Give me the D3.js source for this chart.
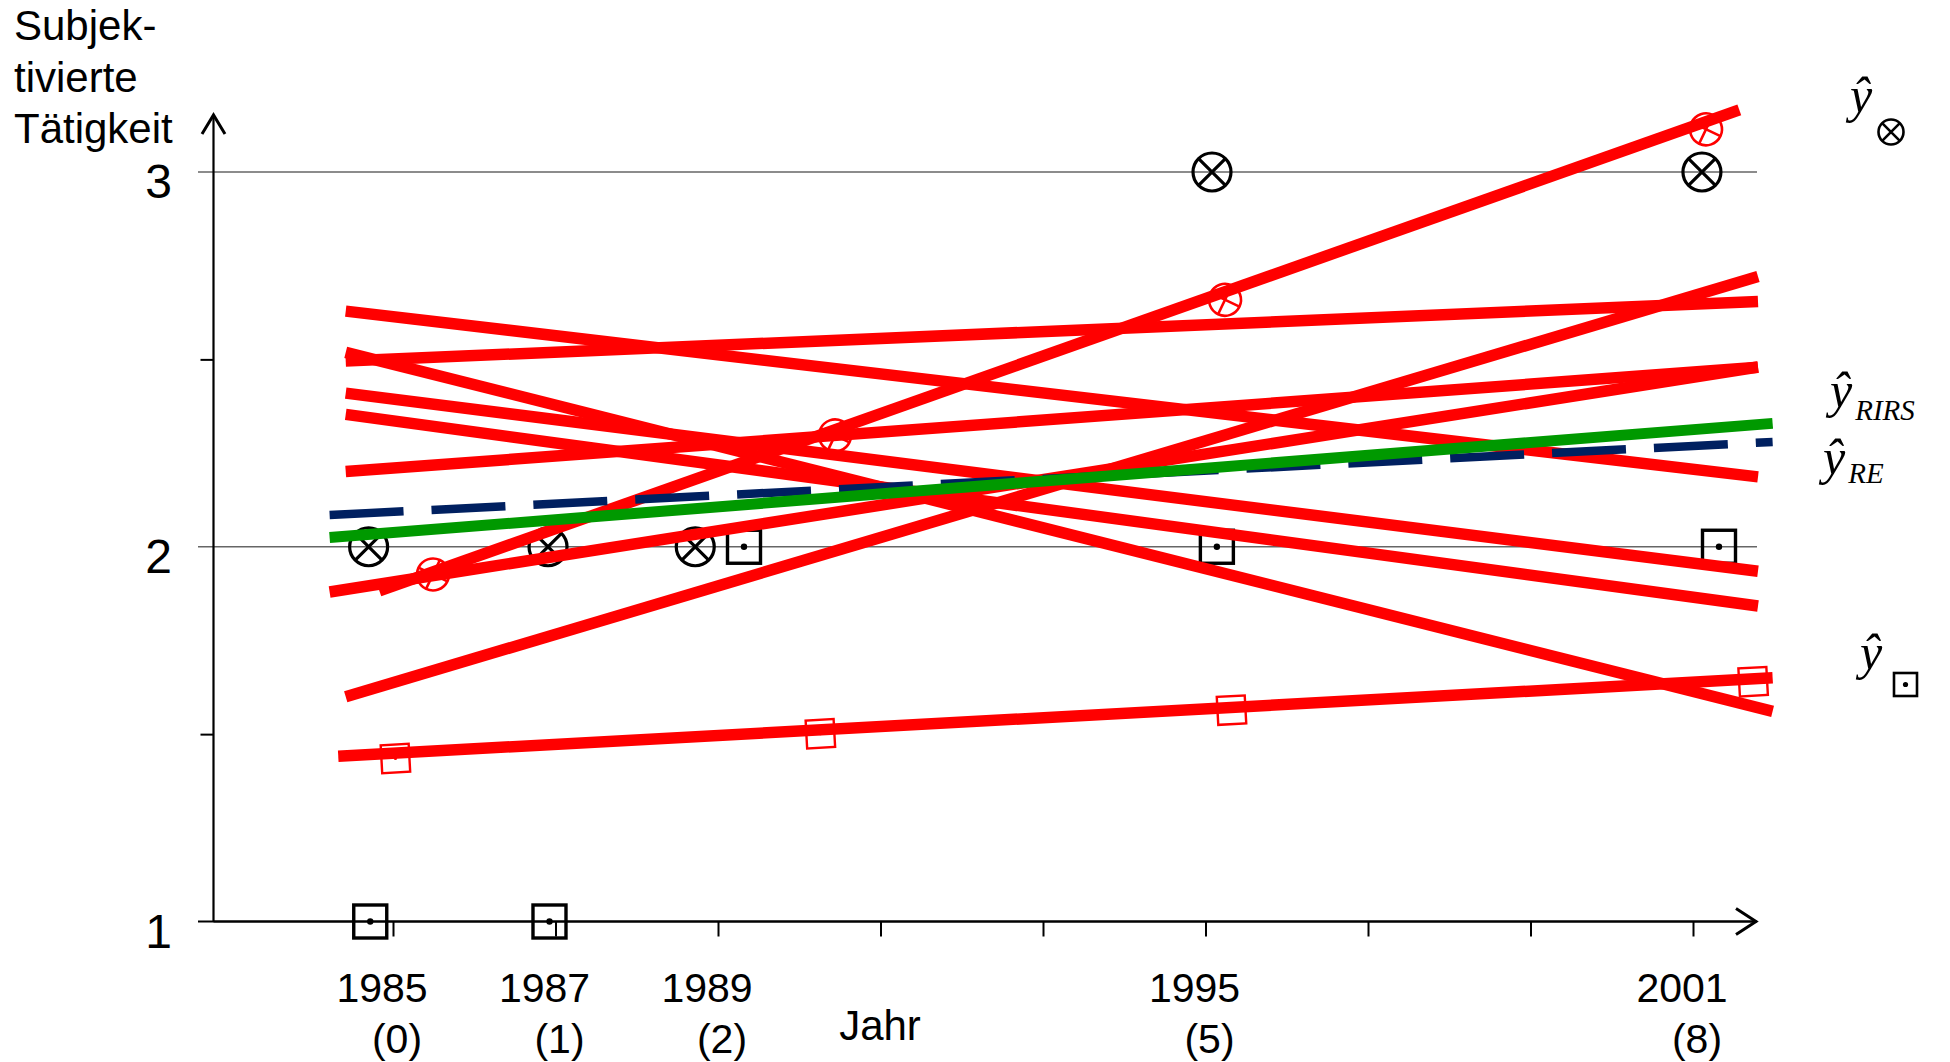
<!DOCTYPE html>
<html>
<head>
<meta charset="utf-8">
<script src="https://cdn.jsdelivr.net/npm/d3@7"></script>
<style>
  body { margin: 0; background: #fff; }
  svg { display: block; }
</style>
</head>
<body>
<svg id="chart" width="1950" height="1062"></svg>
<script>
// Survey waves with their years
const labelWaves = [0, 1, 2, 5, 8];
const waveYears = ["1985", "1987", "1989", "1995", "2001"];
const tickWaves = [0, 1, 2, 3, 4, 5, 6, 7, 8];
const yTicks = [1, 2, 3];
const yTickLabels = ["1", "2", "3"];
const yMinorTicks = [1.5, 2.5];

// Observed values of the two example persons (time in waves)
const obsCrossT = [-0.15, 0.954, 1.86, 5.04, 8.055];
const obsCrossV = [2, 2, 2, 3, 3];
const obsSquareT = [-0.14, 0.963, 2.16, 5.07, 8.16];
const obsSquareV = [1, 1, 2, 2, 2];

// Predicted values of the two example persons
const predCrossT = [0.246, 2.72, 5.12, 8.08];
const predCrossV = [1.926, 2.297, 2.659, 3.114];
const predSquareT = [0.015, 2.63, 5.16, 8.37];
const predSquareV = [1.435, 1.501, 1.564, 1.640];

// Individual regression lines: intercept at wave 0, slope per wave, drawn range
const indIntercept = [1.895, 1.6375, 2.614, 2.487, 2.501, 2.394, 2.336, 2.210, 1.906, 1.449];
const indSlope     = [0.1534, 0.129, -0.0509, -0.1091, 0.0183, -0.0547, -0.0588, 0.032, 0.0683, 0.0237];
const indFrom      = [-0.084, -0.291, -0.291, -0.291, -0.291, -0.291, -0.291, -0.291, -0.39, -0.337];
const indTo        = [8.285, 8.40, 8.40, 8.49, 8.40, 8.40, 8.40, 8.40, 8.40, 8.49];

// Population lines: random intercept/random slope model and random effects model
const rirsLine = { intercept: 2.038, slope: 0.0343, from: -0.39, to: 8.49 };
const reLine   = { intercept: 2.093, slope: 0.022,  from: -0.39, to: 8.49 };

const svg = d3.select("#chart");
const x = d3.scaleLinear().domain([0, 8]).range([393, 1693]);
const y = d3.scaleLinear().domain([1, 3]).range([921.5, 172]);

const sans = "'Liberation Sans', Arial, sans-serif";
const serif = "'Liberation Serif', 'Times New Roman', serif";

// Horizontal grid lines at the integer values
svg.append("g").selectAll("line").data(yTicks).join("line")
  .attr("x1", 198).attr("x2", 1757)
  .attr("y1", d => y(d)).attr("y2", d => y(d))
  .attr("stroke", d => d === 1 ? "#000" : "#666")
  .attr("stroke-width", d => d === 1 ? 2.2 : 1.6);

// Axes
const xAxisG = svg.append("g").attr("transform", `translate(0,${y(1)})`)
  .call(d3.axisBottom(x).tickValues(tickWaves).tickSize(15).tickFormat(""));
xAxisG.select(".domain").remove();
xAxisG.selectAll(".tick line").attr("stroke", "#000").attr("stroke-width", 2);

const yAxisG = svg.append("g").attr("transform", "translate(213.5,0)")
  .call(d3.axisLeft(y).tickValues(yMinorTicks).tickSize(13).tickFormat(""));
yAxisG.select(".domain").remove();
yAxisG.selectAll(".tick line").attr("stroke", "#000").attr("stroke-width", 2);

svg.append("line").attr("x1", 213.5).attr("x2", 213.5).attr("y1", 116).attr("y2", y(1))
  .attr("stroke", "#000").attr("stroke-width", 2.2);
svg.append("path").attr("d", "M202,134 L213.5,115 L225,134").attr("fill", "none")
  .attr("stroke", "#000").attr("stroke-width", 3);
svg.append("line").attr("x1", 213.5).attr("x2", 1755).attr("y1", y(1)).attr("y2", y(1))
  .attr("stroke", "#000").attr("stroke-width", 2.2);
svg.append("path").attr("d", `M1736,${y(1) - 13} L1756,${y(1)} L1736,${y(1) + 13}`)
  .attr("fill", "none").attr("stroke", "#000").attr("stroke-width", 3);

// Tick labels
svg.append("g").selectAll("text").data(yTicks).join("text")
  .attr("x", 172).attr("y", d => y(d) + 26)
  .attr("text-anchor", "end").attr("font-family", sans).attr("font-size", 48)
  .text((d, i) => yTickLabels[i]);

svg.append("g").selectAll("text").data(labelWaves).join("text")
  .attr("x", d => x(d) - 11).attr("y", 1002)
  .attr("text-anchor", "middle").attr("font-family", sans).attr("font-size", 41)
  .text((d, i) => waveYears[i]);
svg.append("g").selectAll("text").data(labelWaves).join("text")
  .attr("x", d => x(d) + 4).attr("y", 1053)
  .attr("text-anchor", "middle").attr("font-family", sans).attr("font-size", 41)
  .text(d => `(${d})`);

svg.append("text").attr("x", 880).attr("y", 1040).attr("text-anchor", "middle")
  .attr("font-family", sans).attr("font-size", 42).text("Jahr");

const yTitle = ["Subjek-", "tivierte", "Tätigkeit"];
svg.append("g").selectAll("text").data(yTitle).join("text")
  .attr("x", 14).attr("y", (d, i) => 40 + i * 51.5)
  .attr("font-family", sans).attr("font-size", 42).text(d => d);

// Marker shapes
function crossMark(g, cx, cy, r, color, sw, rot) {
  const m = g.append("g").attr("transform", `translate(${cx},${cy}) rotate(${rot})`);
  m.append("circle").attr("r", r).attr("fill", "none").attr("stroke", color).attr("stroke-width", sw);
  const k = r * Math.SQRT1_2;
  m.append("path").attr("d", `M${-k},${-k}L${k},${k}M${-k},${k}L${k},${-k}`)
    .attr("stroke", color).attr("stroke-width", sw).attr("fill", "none");
}
function squareMark(g, cx, cy, s, color, sw, rot, dot) {
  const m = g.append("g").attr("transform", `translate(${cx},${cy}) rotate(${rot})`);
  m.append("rect").attr("x", -s / 2).attr("y", -s / 2).attr("width", s).attr("height", s)
    .attr("fill", "none").attr("stroke", color).attr("stroke-width", sw);
  m.append("circle").attr("r", dot).attr("fill", color);
}

const angle = slope => -Math.atan2(y(0) - y(slope), x(1) - x(0)) * 180 / Math.PI;

// Observed data
const obsG = svg.append("g");
obsCrossT.forEach((t, i) => crossMark(obsG, x(t), y(obsCrossV[i]), 19, "#000", 3.2, 0));
obsSquareT.forEach((t, i) => squareMark(obsG, x(t), y(obsSquareV[i]), 33, "#000", 3.4, 0, 3.2));

// Predicted values
const predG = svg.append("g");
predCrossT.forEach((t, i) => crossMark(predG, x(t), y(predCrossV[i]), 16, "#ff0000", 2.6, angle(indSlope[0])));
predSquareT.forEach((t, i) => squareMark(predG, x(t), y(predSquareV[i]), 28, "#ff0000", 2.4, angle(indSlope[9]), 1.6));

// Regression lines
const seg = (a, b, f, t) => [[f, a + b * f], [t, a + b * t]];
const lineGen = d3.line().x(d => x(d[0])).y(d => y(d[1]));

svg.append("g").selectAll("path").data(indIntercept.map((a, i) => seg(a, indSlope[i], indFrom[i], indTo[i])))
  .join("path").attr("d", lineGen)
  .attr("fill", "none").attr("stroke", "#ff0000").attr("stroke-width", 11.5);

svg.append("path").attr("d", lineGen(seg(reLine.intercept, reLine.slope, reLine.from, reLine.to)))
  .attr("fill", "none").attr("stroke", "#002060").attr("stroke-width", 8.5)
  .attr("stroke-dasharray", "74 28");

svg.append("path").attr("d", lineGen(seg(rirsLine.intercept, rirsLine.slope, rirsLine.from, rirsLine.to)))
  .attr("fill", "none").attr("stroke", "#009900").attr("stroke-width", 11);

// Line labels
function hatY(px, py) {
  return svg.append("text").attr("x", px).attr("y", py)
    .attr("font-family", serif).attr("font-style", "italic").attr("font-size", 50);
}
hatY(1850, 112).text("ŷ");
crossMark(svg, 1891, 132, 12.5, "#000", 2.6, 0);

const t1 = hatY(1830, 407);
t1.append("tspan").text("ŷ");
t1.append("tspan").attr("dx", 3).attr("dy", 13).attr("font-size", 29).text("RIRS");

const t2 = hatY(1823, 474);
t2.append("tspan").text("ŷ");
t2.append("tspan").attr("dx", 3).attr("dy", 9).attr("font-size", 29).text("RE");

hatY(1860, 669).text("ŷ");
squareMark(svg, 1905.5, 684.5, 23, "#000", 2.6, 0, 2.6);
</script>
</body>
</html>
